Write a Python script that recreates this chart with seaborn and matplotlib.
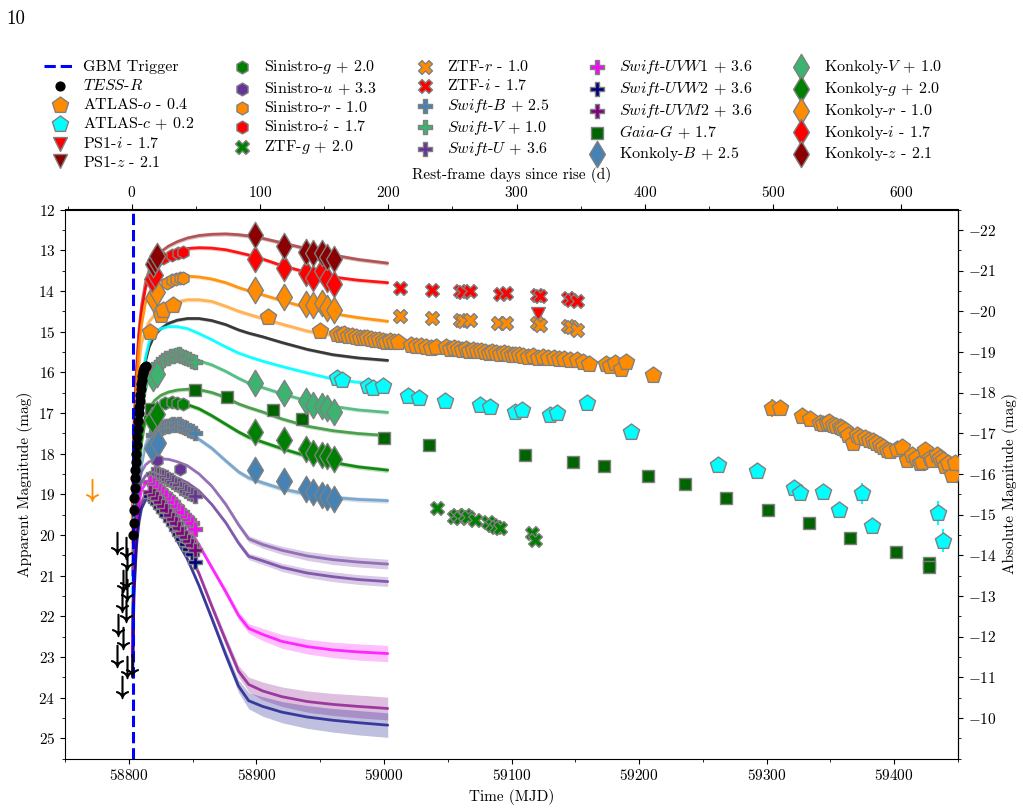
import numpy as np
import matplotlib
matplotlib.use('Agg')
import matplotlib.pyplot as plt
from matplotlib.lines import Line2D
from matplotlib.ticker import MultipleLocator, FixedLocator
import seaborn as sns

sns.set_style('ticks')
plt.rcParams['font.family'] = 'serif'
plt.rcParams['font.serif'] = ['cmr10']
plt.rcParams['mathtext.fontset'] = 'cm'
plt.rcParams['axes.formatter.use_mathtext'] = True
plt.rcParams['font.size'] = 11
plt.rcParams['axes.edgecolor'] = 'black'
plt.rcParams['text.color'] = 'black'
plt.rcParams['axes.labelcolor'] = 'black'
plt.rcParams['xtick.color'] = 'black'
plt.rcParams['ytick.color'] = 'black'

# ---------------- data ----------------
gbm_trigger = 58803.0
t_rise = 58802.5
z_red = 0.005
dist_mod = 34.5

# model grid (MJD) and model magnitudes (already offset)
model_t = [58803.0, 58804, 58806, 58808, 58810, 58813, 58816, 58820, 58825, 58831, 58838, 58846,
           58855, 58865, 58876, 58886, 58894, 58905, 58920, 58940, 58960, 58980, 59003]
mod_z = [19.5, 17.3, 15.9, 14.95, 14.35, 13.8, 13.48, 13.22, 13.04, 12.9, 12.79, 12.7,
         12.64, 12.61, 12.6, 12.62, 12.65, 12.71, 12.82, 12.97, 13.12, 13.23, 13.32]
mod_i = [19.8, 17.6, 16.1, 15.1, 14.5, 13.95, 13.62, 13.36, 13.19, 13.08, 13.01, 12.96,
         12.94, 12.95, 12.99, 13.06, 13.12, 13.22, 13.38, 13.55, 13.66, 13.74, 13.8]
mod_r = [20.2, 18.0, 16.4, 15.4, 14.85, 14.3, 14.05, 13.86, 13.75, 13.69, 13.66, 13.64,
         13.66, 13.71, 13.8, 13.92, 14.0, 14.1, 14.24, 14.42, 14.56, 14.66, 14.75]
mod_o = [20.5, 18.5, 16.9, 15.85, 15.3, 14.95, 14.75, 14.6, 14.45, 14.34, 14.27, 14.22,
         14.22, 14.26, 14.38, 14.5, 14.58, 14.68, 14.82, 14.99, 15.09, 15.15, 15.2]
mod_tess = [21.0, 19.6, 17.9, 16.9, 16.2, 15.75, 15.38, 15.1, 14.93, 14.8, 14.72, 14.68,
            14.68, 14.73, 14.83, 14.96, 15.04, 15.13, 15.27, 15.44, 15.57, 15.65, 15.71]
mod_c = [21.5, 20.0, 18.3, 17.2, 16.4, 15.65, 15.25, 15.03, 14.93, 14.88, 14.88, 14.93,
         15.05, 15.2, 15.38, 15.53, 15.62, 15.73, 15.86, 16.02, 16.17, 16.25, 16.32]
mod_V = [22.0, 20.5, 19.0, 17.9, 17.1, 16.45, 16.1, 15.88, 15.76, 15.69, 15.66, 15.67,
         15.72, 15.82, 15.98, 16.15, 16.27, 16.38, 16.53, 16.71, 16.84, 16.93, 16.99]
mod_G = [22.3, 21.0, 19.6, 18.5, 17.75, 17.2, 16.9, 16.7, 16.57, 16.49, 16.44, 16.42,
         16.43, 16.5, 16.62, 16.78, 16.87, 16.98, 17.15, 17.33, 17.44, 17.51, 17.56]
mod_g = [22.5, 21.0, 19.4, 18.2, 17.5, 17.1, 16.93, 16.84, 16.79, 16.76, 16.76, 16.8,
         16.9, 17.07, 17.28, 17.47, 17.6, 17.72, 17.88, 18.07, 18.22, 18.33, 18.41]
mod_B = [23.0, 21.6, 20.2, 19.0, 18.3, 17.8, 17.55, 17.43, 17.37, 17.34, 17.36, 17.45,
         17.65, 17.87, 18.18, 18.45, 18.6, 18.72, 18.87, 19.0, 19.08, 19.13, 19.16]
mod_u = [23.0, 20.2, 19.2, 18.7, 18.45, 18.28, 18.2, 18.15, 18.13, 18.14, 18.2, 18.3,
         18.5, 18.8, 19.25, 19.75, 20.1, 20.24, 20.38, 20.52, 20.61, 20.67, 20.72]
mod_U = [23.0, 20.8, 19.6, 19.0, 18.7, 18.55, 18.48, 18.46, 18.47, 18.52, 18.6, 18.72,
         18.92, 19.25, 19.7, 20.2, 20.53, 20.64, 20.8, 20.94, 21.03, 21.1, 21.15]
mod_W1 = [23.0, 21.0, 19.8, 19.2, 18.9, 18.75, 18.7, 18.73, 18.85, 19.05, 19.35, 19.78,
          20.25, 20.8, 21.4, 21.98, 22.3, 22.45, 22.62, 22.75, 22.83, 22.88, 22.92]
mod_M2 = [23.5, 21.3, 20.1, 19.5, 19.2, 19.0, 18.95, 19.05, 19.3, 19.6, 19.95, 20.35,
          20.95, 21.75, 22.6, 23.35, 23.68, 23.84, 23.98, 24.1, 24.17, 24.22, 24.27]
mod_W2 = [23.5, 21.5, 20.3, 19.7, 19.35, 19.15, 19.05, 19.15, 19.4, 19.75, 20.15, 20.6,
          21.25, 22.05, 22.95, 23.72, 24.08, 24.22, 24.36, 24.48, 24.56, 24.62, 24.68]

# half widths of the shaded model bands
sig_u = [0.03, 0.03, 0.03, 0.03, 0.03, 0.03, 0.03, 0.03, 0.03, 0.03, 0.03, 0.04,
         0.04, 0.05, 0.06, 0.07, 0.08, 0.09, 0.1, 0.11, 0.12, 0.12, 0.12]
sig_W1 = [0.04, 0.04, 0.04, 0.04, 0.04, 0.04, 0.04, 0.04, 0.04, 0.05, 0.05, 0.06,
          0.07, 0.08, 0.09, 0.1, 0.12, 0.15, 0.17, 0.18, 0.19, 0.2, 0.2]
sig_M2 = [0.05, 0.05, 0.05, 0.05, 0.05, 0.05, 0.05, 0.05, 0.05, 0.06, 0.06, 0.07,
          0.08, 0.1, 0.12, 0.14, 0.18, 0.22, 0.24, 0.26, 0.27, 0.28, 0.28]
sig_W2 = [0.05, 0.05, 0.05, 0.05, 0.05, 0.05, 0.05, 0.05, 0.05, 0.06, 0.06, 0.07,
          0.08, 0.1, 0.12, 0.15, 0.2, 0.24, 0.26, 0.28, 0.29, 0.3, 0.3]

# photometry (MJD, offset mag)
tess_t = [58803.4, 58803.7, 58804.0, 58804.3, 58804.6, 58804.9, 58805.2, 58805.5, 58805.8, 58806.1,
          58806.5, 58806.9, 58807.3, 58807.7, 58808.1, 58808.5, 58808.9, 58809.3, 58809.7, 58810.1,
          58810.5, 58810.9, 58811.3, 58811.7, 58812.1, 58812.5, 58812.9, 58813.3]
tess_m = [20.0, 19.7, 19.4, 19.1, 18.85, 18.6, 18.4, 18.2, 18.0, 17.8,
          17.6, 17.4, 17.2, 17.0, 16.85, 16.7, 16.55, 16.42, 16.3, 16.2,
          16.1, 16.02, 15.96, 15.92, 15.9, 15.88, 15.87, 15.86]

tess_lim = [(58790.5, 20.2), (58797.8, 20.33), (58798.5, 20.6), (58797.5, 21.05), (58795.7, 21.14),
            (58798.8, 21.36), (58794.4, 21.63), (58797.8, 21.88), (58791.7, 22.22), (58795.2, 22.54),
            (58791.0, 22.99), (58798.8, 23.26), (58802.5, 23.2), (58794.4, 23.75)]
atlas_lim = [(58770.9, 18.9)]

atlas_o = [(58816.5, 15.02), (58825.5, 14.59), (58827, 14.46), (58834.5, 14.34), (58909.5, 14.64),
           (58949.5, 14.98),
           (58963, 15.05), (58966, 15.08), (58969, 15.07), (58972, 15.10), (58975, 15.12), (58978, 15.13),
           (58981, 15.15), (58984, 15.17), (58987, 15.16), (58990, 15.19), (58993, 15.22), (58996, 15.21),
           (58999, 15.24), (59002, 15.25), (59005, 15.23), (59008, 15.27), (59011, 15.26),
           (59021, 15.33), (59025, 15.36), (59029, 15.35), (59033, 15.38), (59037, 15.4), (59041, 15.37),
           (59049, 15.38), (59052, 15.42), (59055, 15.40), (59058, 15.43), (59061, 15.45), (59064, 15.44),
           (59067, 15.47), (59070, 15.46), (59073, 15.49), (59076, 15.48), (59079, 15.5), (59082, 15.52),
           (59085, 15.51), (59088, 15.53), (59091, 15.55), (59094, 15.54), (59097, 15.56), (59100, 15.58),
           (59103, 15.57), (59106, 15.59), (59109, 15.6), (59113, 15.62), (59117, 15.61), (59121, 15.64),
           (59125, 15.63), (59129, 15.66), (59133, 15.65), (59137, 15.68), (59141, 15.67), (59146, 15.7),
           (59151, 15.7), (59156, 15.76), (59161, 15.8),
           (59174, 15.8), (59177, 15.85), (59181, 15.78), (59186, 15.92), (59190, 15.75), (59211, 16.06),
           (59304, 16.88), (59310.4, 16.88), (59327.5, 17.09), (59334, 17.16), (59341.8, 17.25),
           (59344, 17.28), (59347, 17.25), (59349, 17.22), (59352.3, 17.3), (59354, 17.33), (59357.5, 17.34),
           (59359, 17.38), (59361.4, 17.42), (59364, 17.54), (59367.9, 17.75), (59370.5, 17.54),
           (59373, 17.6), (59377, 17.62), (59380, 17.66), (59383.6, 17.7), (59386, 17.74), (59388.8, 17.79),
           (59391, 17.85), (59394, 17.91), (59397, 17.95), (59402, 17.88), (59405.9, 17.83), (59409.8, 18.16),
           (59413.7, 18.03), (59417, 18.1), (59420.2, 18.24), (59422, 18.2), (59424.2, 17.91), (59428.1, 18.12),
           (59430, 18.15), (59433.3, 18.03), (59436, 18.1), (59438.5, 18.16), (59440, 18.3), (59442.4, 18.24),
           (59445.1, 18.53), (59447.7, 18.24)]
atlas_o_bars = [(59304, 16.88, 0.23)]

atlas_c = [(58963, 16.15), (58966.9, 16.2), (58987.7, 16.35), (58991.7, 16.39), (58999.5, 16.35),
           (59019.1, 16.58), (59027.7, 16.64), (59047.9, 16.72), (59075.3, 16.8), (59083.1, 16.86),
           (59102.7, 16.97), (59108, 16.94), (59130.2, 17.05), (59135.4, 17.01), (59159.4, 16.76),
           (59193.4, 17.48), (59262.1, 18.28), (59292.2, 18.44), (59321.7, 18.86), (59326.1, 18.98),
           (59344.4, 18.94), (59356.9, 19.39), (59374.5, 18.98), (59382.4, 19.78), (59434.5, 19.46),
           (59438.5, 20.14)]
atlas_c_bars = [(59356.9, 19.39, 0.1), (59374.5, 18.98, 0.25), (59382.4, 19.78, 0.1),
                (59434.5, 19.46, 0.29), (59438.5, 20.14, 0.29)]

ps1_i = [(59120.4, 14.56)]

sin_g = [(58828.4, 16.76), (58833.6, 16.73), (58838, 16.76), (58842.7, 16.79)]
sin_u = [(58822.3, 18.17), (58840.1, 18.39)]
sin_r = [(58829.7, 13.81), (58834, 13.74), (58837, 13.71), (58840, 13.69), (58842.7, 13.68)]
sin_i = [(58827, 13.19), (58833.6, 13.11), (58838.8, 13.07), (58842.7, 13.05)]

ztf_g = [(59041.4, 19.35), (59055, 19.55), (59057, 19.52), (59060, 19.58), (59063.5, 19.51),
         (59066, 19.56), (59071.4, 19.64), (59081.8, 19.68), (59085, 19.75), (59088, 19.8),
         (59091, 19.84), (59115.8, 19.96), (59118.4, 20.13)]
ztf_r = [(59012.6, 14.63), (59037.4, 14.68), (59059.6, 14.71), (59062, 14.73), (59067.4, 14.71),
         (59089.6, 14.79), (59095.7, 14.79), (59120, 14.78), (59122.4, 14.83), (59144.5, 14.87),
         (59147, 14.9), (59151.1, 14.96)]
ztf_i = [(59012.6, 13.93), (59037.4, 13.99), (59059.6, 14.01), (59062, 14.03), (59067.4, 14.01),
         (59091, 14.07), (59095.7, 14.05), (59120, 14.1), (59122.4, 14.13), (59144.5, 14.18),
         (59147, 14.22), (59151.1, 14.26)]

swift_t = [58819.2, 58821, 58823, 58825, 58827, 58829, 58831, 58833, 58835, 58837, 58839,
           58841, 58843, 58845, 58847, 58849.5, 58852]
swift_B = [17.55, 17.48, 17.42, 17.38, 17.35, 17.33, 17.32, 17.3, 17.28, 17.3, 17.27,
           17.32, 17.35, 17.38, 17.42, 17.45, 17.5]
swift_V = [16.0, 15.9, 15.8, 15.74, 15.7, 15.66, 15.64, 15.6, 15.6, 15.57, 15.56,
           15.6, 15.62, 15.64, 15.68, 15.72, 15.76]
swift_U = [18.5, 18.48, 18.5, 18.52, 18.55, 18.58, 18.62, 18.66, 18.7, 18.74, 18.78,
           18.84, 18.88, 18.93, 18.96, 19.0, 19.05]
uv_t = [58817, 58819.5, 58822, 58824.5, 58827, 58829.5, 58832, 58834.5, 58837, 58839.5,
        58842, 58844.5, 58847, 58849.5, 58852]
swift_W1 = [18.7, 18.75, 18.82, 18.9, 18.98, 19.05, 19.12, 19.2, 19.28, 19.38,
            19.45, 19.55, 19.63, 19.72, 19.85]
swift_W2 = [19.05, 19.12, 19.22, 19.32, 19.42, 19.52, 19.63, 19.74, 19.86, 19.98,
            20.1, 20.22, 20.35, 20.48, 20.68]
swift_M2 = [18.95, 19.03, 19.1, 19.2, 19.3, 19.4, 19.5, 19.6, 19.72, 19.84,
            19.95, 20.06, 20.15, 20.26, 20.37]

gaia_G = [(58817.4, 16.9), (58851.9, 16.43), (58876.7, 16.61), (58913.3, 16.94), (58936, 17.15),
          (59000, 17.61), (59035.6, 17.79), (59110.6, 18.03), (59148.4, 18.2), (59172.5, 18.3),
          (59207.2, 18.55), (59236.2, 18.76), (59267.9, 19.1), (59301.3, 19.39), (59333.4, 19.72),
          (59365.3, 20.09), (59401.4, 20.42), (59427.5, 20.7), (59427.5, 20.79)]

konk_B = [(58818, 17.87), (58823.1, 17.75), (58898.9, 18.4), (58921.9, 18.67), (58938.9, 18.88),
          (58944.6, 18.94), (58951.2, 19.02), (58955.6, 19.06), (58960.9, 19.13)]
konk_V = [(58819.2, 16.15), (58821.9, 16.05), (58898.9, 16.27), (58921.9, 16.5), (58938.9, 16.72),
          (58944.6, 16.8), (58951.2, 16.84), (58955.6, 16.88), (58960.9, 16.97)]
konk_g = [(58818, 17.17), (58821.9, 17.03), (58898.9, 17.46), (58921.9, 17.68), (58938.9, 17.89),
          (58944.6, 17.99), (58951.2, 18.03), (58955.6, 18.07), (58960.9, 18.14)]
konk_r = [(58819.2, 14.17), (58821.9, 14.03), (58898.9, 13.97), (58921.9, 14.15), (58938.9, 14.32),
          (58944.6, 14.36), (58951.2, 14.3), (58955.6, 14.42), (58960.9, 14.46)]
konk_i = [(58818.5, 13.72), (58820.5, 13.62), (58898.9, 13.21), (58921.9, 13.44), (58938.9, 13.56),
          (58944.6, 13.68), (58951.2, 13.52), (58955.6, 13.72), (58960.9, 13.82)]
konk_z = [(58819.2, 13.35), (58820.8, 13.25), (58822.3, 13.15), (58898.9, 12.62), (58921.9, 12.89),
          (58938.9, 13.04), (58944.6, 13.07), (58951.2, 13.07), (58955.6, 13.17), (58960.9, 13.21)]

rest_ticks = [0, 100, 200, 300, 400, 500, 600]
abs_ticks = [-22, -21, -20, -19, -18, -17, -16, -15, -14, -13, -12, -11, -10]

# ---------------- figure ----------------
fig = plt.figure(figsize=(10.23, 8.1), dpi=100)
ax = fig.add_axes([65 / 1023, 51.5 / 810, 893 / 1023, 549 / 810])

# model light curves with uncertainty bands
models = [
    (mod_z, 0.05, 'darkred', 0.55),
    (mod_i, 0.05, 'red', 0.9),
    (mod_r, 0.05, 'darkorange', 0.9),
    (mod_o, 0.05, 'darkorange', 0.55),
    (mod_tess, 0.04, 'black', 0.7),
    (mod_c, 0.04, 'cyan', 0.9),
    (mod_V, 0.05, 'mediumseagreen', 0.8),
    (mod_G, 0.05, 'forestgreen', 0.75),
    (mod_g, 0.06, 'green', 0.9),
    (mod_B, 0.06, 'steelblue', 0.6),
    (mod_u, sig_u, 'rebeccapurple', 0.6),
    (mod_U, sig_u, 'rebeccapurple', 0.75),
    (mod_W1, sig_W1, 'magenta', 0.8),
    (mod_M2, sig_M2, 'purple', 0.7),
    (mod_W2, sig_W2, 'navy', 0.7),
]
for vals, sig, col, a in models:
    vals = np.array(vals)
    sig = np.array(sig)
    ax.fill_between(model_t, vals - sig, vals + sig, color=col, alpha=0.25, lw=0, zorder=1)
    sns.lineplot(x=model_t, y=vals, color=col, alpha=a, lw=2, ax=ax, sort=False,
                 estimator=None, zorder=2)

gbm = ax.axvline(gbm_trigger, color='blue', ls='--', lw=2.2, zorder=2.5)

# error bars on the faint late ATLAS points
for bars, col in [(atlas_o_bars, 'darkorange'), (atlas_c_bars, 'cyan')]:
    bt, bm, be = zip(*bars)
    ax.errorbar(bt, bm, yerr=be, fmt='none', ecolor=col, elinewidth=1.5, zorder=3)

handles = {}


def pts(t, m, marker, color, s, label, z=4, edge='gray'):
    sns.scatterplot(x=list(t), y=list(m), marker=marker, color=color, s=s, edgecolor=edge,
                    linewidth=1, ax=ax, zorder=z, legend=False)
    handles[label] = ax.collections[-1]


def pairs(data, *args, **kws):
    t, m = zip(*data)
    pts(t, m, *args, **kws)


# upper limits
lt, lm = zip(*tess_lim)
sns.scatterplot(x=list(lt), y=list(lm), marker='$\\downarrow$', color='black', edgecolor='black',
                s=260, linewidth=0.8, ax=ax, zorder=3, legend=False)
lt, lm = zip(*atlas_lim)
sns.scatterplot(x=list(lt), y=list(lm), marker='$\\downarrow$', color='darkorange',
                edgecolor='darkorange', s=260, linewidth=0.6, ax=ax, zorder=3, legend=False)

pairs(atlas_o, 'p', 'darkorange', 150, 'ATLAS-$o$ - 0.4')
pairs(atlas_c, 'p', 'cyan', 150, 'ATLAS-$c$ + 0.2')
pairs(ps1_i, 'v', 'red', 100, 'PS1-$i$ - 1.7')
pairs(sin_g, 'h', 'green', 85, 'Sinistro-$g$ + 2.0')
pairs(sin_u, 'h', 'rebeccapurple', 85, 'Sinistro-$u$ + 3.3')
pairs(sin_r, 'h', 'darkorange', 85, 'Sinistro-$r$ - 1.0')
pairs(sin_i, 'h', 'red', 85, 'Sinistro-$i$ - 1.7')
pairs(ztf_g, 'X', 'green', 100, 'ZTF-$g$ + 2.0')
pairs(ztf_r, 'X', 'darkorange', 100, 'ZTF-$r$ - 1.0')
pairs(ztf_i, 'X', 'red', 100, 'ZTF-$i$ - 1.7')
pts(swift_t, swift_B, 'P', 'steelblue', 95, '$Swift$-$B$ + 2.5')
pts(swift_t, swift_V, 'P', 'mediumseagreen', 95, '$Swift$-$V$ + 1.0')
pts(swift_t, swift_U, 'P', 'rebeccapurple', 95, '$Swift$-$U$ + 3.6')
pts(uv_t, swift_W1, 'P', 'magenta', 95, '$Swift$-$UVW1$ + 3.6')
pts(uv_t, swift_W2, 'P', 'navy', 95, '$Swift$-$UVW2$ + 3.6')
pts(uv_t, swift_M2, 'P', 'purple', 95, '$Swift$-$UVM2$ + 3.6')
pairs(gaia_G, 's', 'darkgreen', 70, '$Gaia$-$G$ + 1.7')
pairs(konk_B, 'd', 'steelblue', 180, 'Konkoly-$B$ + 2.5')
pairs(konk_V, 'd', 'mediumseagreen', 180, 'Konkoly-$V$ + 1.0')
pairs(konk_g, 'd', 'green', 180, 'Konkoly-$g$ + 2.0')
pairs(konk_r, 'd', 'darkorange', 180, 'Konkoly-$r$ - 1.0')
pairs(konk_i, 'd', 'red', 180, 'Konkoly-$i$ - 1.7')
pairs(konk_z, 'd', 'darkred', 180, 'Konkoly-$z$ - 2.1')
pts(tess_t, tess_m, 'o', 'black', 40, '$TESS$-$R$', z=5, edge='black')

handles['GBM Trigger'] = gbm
handles['PS1-$z$ - 2.1'] = Line2D([], [], ls='none', marker='v', color='darkred',
                                  markeredgecolor='gray', markersize=10)

order = ['GBM Trigger', '$TESS$-$R$', 'ATLAS-$o$ - 0.4', 'ATLAS-$c$ + 0.2', 'PS1-$i$ - 1.7',
         'PS1-$z$ - 2.1', 'Sinistro-$g$ + 2.0', 'Sinistro-$u$ + 3.3', 'Sinistro-$r$ - 1.0',
         'Sinistro-$i$ - 1.7', 'ZTF-$g$ + 2.0', 'ZTF-$r$ - 1.0', 'ZTF-$i$ - 1.7',
         '$Swift$-$B$ + 2.5', '$Swift$-$V$ + 1.0', '$Swift$-$U$ + 3.6', '$Swift$-$UVW1$ + 3.6',
         '$Swift$-$UVW2$ + 3.6', '$Swift$-$UVM2$ + 3.6', '$Gaia$-$G$ + 1.7', 'Konkoly-$B$ + 2.5',
         'Konkoly-$V$ + 1.0', 'Konkoly-$g$ + 2.0', 'Konkoly-$r$ - 1.0', 'Konkoly-$i$ - 1.7',
         'Konkoly-$z$ - 2.1']
fig.legend([handles[k] for k in order], order, loc='upper center', bbox_to_anchor=(0.482, 0.946),
           ncol=5, frameon=False, fontsize=11.5, handletextpad=0.4, labelspacing=0.24,
           columnspacing=2.0, handlelength=2.0)

# axes
ax.set_xlim(58750, 59450)
ax.set_ylim(25.5, 12)
ax.xaxis.set_major_locator(MultipleLocator(100))
ax.xaxis.set_minor_locator(MultipleLocator(50))
ax.yaxis.set_major_locator(MultipleLocator(1))
ax.yaxis.set_minor_locator(MultipleLocator(0.5))
ax.set_xlabel('Time (MJD)')
ax.set_ylabel('Apparent Magnitude (mag)')

top = ax.secondary_xaxis('top', functions=(lambda t: (t - t_rise) / (1 + z_red),
                                           lambda r: r * (1 + z_red) + t_rise))
top.xaxis.set_major_locator(FixedLocator(rest_ticks))
top.xaxis.set_minor_locator(MultipleLocator(50))
top.set_xlabel('Rest-frame days since rise (d)')

right = ax.secondary_yaxis('right', functions=(lambda m: m - dist_mod, lambda M: M + dist_mod))
right.yaxis.set_major_locator(FixedLocator(abs_ticks))
right.yaxis.set_minor_locator(MultipleLocator(0.5))
right.set_ylabel('Absolute Magnitude (mag)')

fig.text(0.006, 0.988, '10', fontsize=13.5, va='top', ha='left')

fig.savefig('out.png', dpi=100)
